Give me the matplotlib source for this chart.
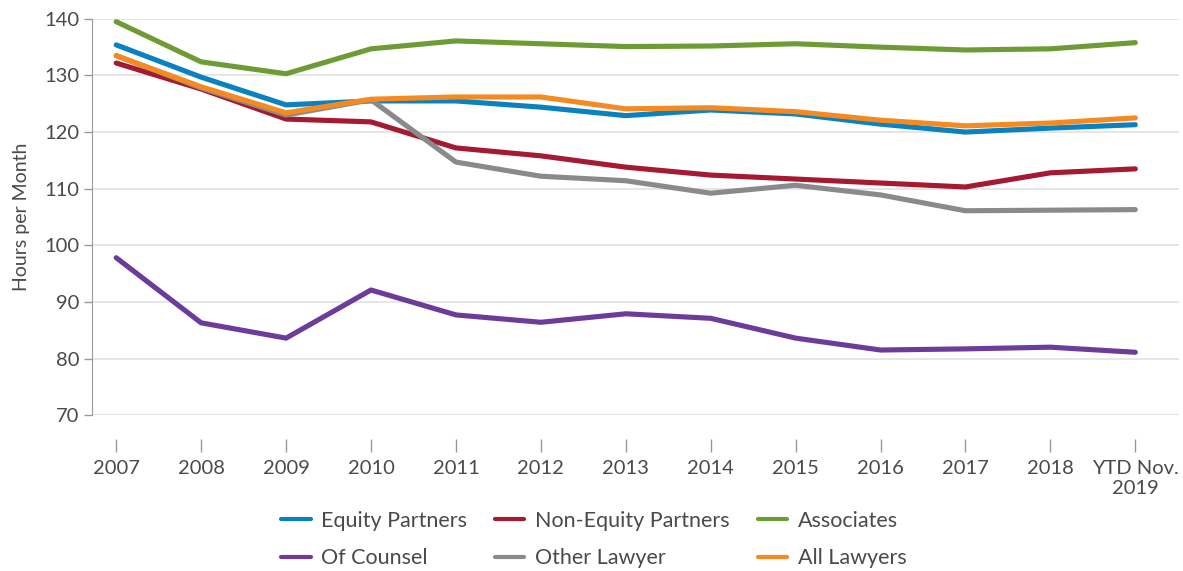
import matplotlib
matplotlib.use("Agg")
import matplotlib.pyplot as plt

# Data
YEARS = ['2007', '2008', '2009', '2010', '2011', '2012', '2013', '2014',
         '2015', '2016', '2017', '2018', 'YTD Nov.\n2019']
EQUITY = [135.4, 129.7, 124.8, 125.5, 125.5, 124.4, 122.9, 123.9, 123.2, 121.4, 120.0, 120.7, 121.3]
NON_EQUITY = [132.2, 127.6, 122.3, 121.8, 117.2, 115.8, 113.8, 112.4, 111.7, 111.0, 110.3, 112.8, 113.5]
ASSOCIATES = [139.5, 132.4, 130.3, 134.7, 136.1, 135.6, 135.1, 135.2, 135.6, 135.0, 134.5, 134.7, 135.8]
OF_COUNSEL = [97.8, 86.3, 83.6, 92.1, 87.7, 86.4, 87.9, 87.1, 83.6, 81.5, 81.7, 82.0, 81.1]
OTHER = [133.5, 127.8, 123.0, 125.7, 114.7, 112.2, 111.4, 109.2, 110.6, 108.9, 106.1, 106.2, 106.3]
ALL_LAWYERS = [133.5, 128.0, 123.4, 125.8, 126.2, 126.2, 124.1, 124.3, 123.6, 122.1, 121.1, 121.6, 122.5]

SERIES = [
    ('Equity Partners', EQUITY, '#0a82c0'),
    ('Non-Equity Partners', NON_EQUITY, '#a51931'),
    ('Associates', ASSOCIATES, '#6d9b34'),
    ('Of Counsel', OF_COUNSEL, '#6d3c9a'),
    ('Other Lawyer', OTHER, '#8a8a8a'),
    ('All Lawyers', ALL_LAWYERS, '#f58a20'),
]

TEXT = '#4a4a4a'
FS = 14.5
plt.rcParams['font.family'] = ['Lato', 'DejaVu Sans']

fig = plt.figure(figsize=(11.83, 5.71), dpi=100)
ax = fig.add_axes([0.078, 0.273, 0.919, 0.694])

x = list(range(len(YEARS)))
handles = []
for name, vals, color in SERIES:
    line, = ax.plot(x, vals, color=color, lw=3.7, label=name, solid_capstyle='round')
    handles.append(line)

ax.set_ylim(70, 140)
ax.set_xlim(-0.282, 12.52)
ax.set_yticks(range(70, 141, 10))
ax.set_xticks(x)
ax.set_xticklabels(YEARS, linespacing=0.95)
ax.tick_params(axis='y', labelsize=FS, labelcolor=TEXT, color='#999999', length=6, width=1)
ax.tick_params(axis='x', labelsize=FS, labelcolor=TEXT, color='#999999', length=9.5, width=1, pad=6)

ax.grid(axis='y', color='#e2e2e2', lw=1.2)
ax.set_axisbelow(True)
for s in ['top', 'right']:
    ax.spines[s].set_visible(False)
ax.spines['left'].set_color('#999999')
ax.spines['bottom'].set_position(('outward', 17))
ax.spines['bottom'].set_visible(False)
ax.axhline(70, color='#d8d8d8', lw=1.2, zorder=0)

ax.set_ylabel('Hours per Month', fontsize=FS - 0.5, color=TEXT, labelpad=10)

# legend is filled row by row in the reference
order = [0, 3, 1, 4, 2, 5]
leg = fig.legend([handles[i] for i in order], [SERIES[i][0] for i in order],
                 loc='center', bbox_to_anchor=(0.502, 0.055), ncol=3, frameon=False,
                 fontsize=15.5, labelcolor=TEXT, handlelength=1.35, columnspacing=1.3,
                 handletextpad=0.5, labelspacing=0.8)
for h in leg.legend_handles:
    h.set_linewidth(3.0)

fig.savefig('out.png', dpi=100)
